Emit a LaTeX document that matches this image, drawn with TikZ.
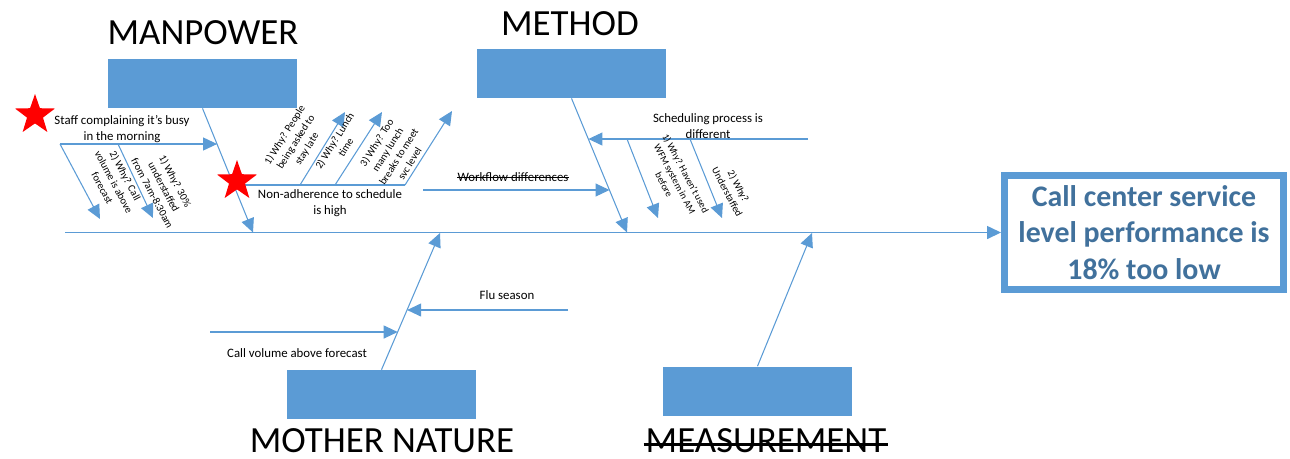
\documentclass[tikz,border=0pt]{standalone}
\usepackage{fontspec}
\setmainfont{Carlito}
\usetikzlibrary{arrows.meta,shapes.geometric}
\definecolor{bone}{HTML}{5B9BD5}
\definecolor{effecttext}{HTML}{41719C}
\tikzset{category/.style = {fill=bone, minimum width=3.78cm, minimum height=0.98cm, inner sep=0}}
\tikzset{catname/.style = {font=\fontsize{21}{25}\selectfont, inner sep=0}}
\tikzset{bonearrow/.style = {draw=bone, line width=0.6pt, -{Triangle[length=0.28cm,width=0.26cm]}}}
\tikzset{cause/.style = {font=\fontsize{7.3}{9}\selectfont, align=center, inner sep=0}}
\tikzset{why/.style = {font=\fontsize{6}{7.4}\selectfont, align=center, inner sep=0}}
\tikzset{redstar/.style = {star, star points=5, star point ratio=2.5, fill=red, minimum size=0.84cm, inner sep=0}}

\begin{document}
\begin{tikzpicture}[x=0.02cm, y=-0.02cm]
        \useasboundingbox (0,0) rectangle (1290,458);

        % effect and spine
        \node[draw=bone, line width=0.14cm, minimum width=5.58cm, minimum height=2.28cm,
              text=effecttext, font=\fontsize{17}{20.8}\selectfont\bfseries, align=center]
              (effect) at (1144,232.5) {Call center service\\level performance is\\18\% too low};
        \coordinate (tail) at (65,232.5);
        \draw[bonearrow, line width=0.85pt] (tail) -- (effect.west);

        % categories
        \node[category] (man) at (202.5,83.5) {};
        \node[category] (meth) at (571.5,73.5) {};
        \node[category] (nat) at (381.5,394.5) {};
        \node[category] (meas) at (757.5,391) {};
        \node[catname] (mantext) at (203,33) {MANPOWER};
        \node[catname] (methtext) at (570,24) {METHOD};
        \node[catname] (nattext) at (382,441) {MOTHER NATURE};
        \node[catname] (meastext) at (766,441) {MEASUREMENT};
        \draw[line width=1.3pt] ([xshift=-1pt,yshift=-2pt]meastext.west) -- ([xshift=1pt,yshift=-2pt]meastext.east);

        \coordinate (manend) at (253,232.5);
        \coordinate (methend) at (627,232.5);
        \coordinate (natend) at (440,233);
        \coordinate (measend) at (812,233);
        \draw[bonearrow] (man.south) -- (manend);
        \draw[bonearrow] (meth.south) -- (methend);
        \draw[bonearrow] (nat.north) -- (natend);
        \draw[bonearrow] (meas.north) -- (measend);

        % manpower causes
        \coordinate (staff) at (60,144);
        \coordinate (staffend) at (217.1,144);
        \coordinate (staffwhy) at (118,144);
        \coordinate (staffwhyend) at (153,218);
        \coordinate (staffcallend) at (100,219);
        \draw[bonearrow] (staff) -- (staffend);
        \draw[bonearrow] (staff) -- (staffcallend);
        \draw[bonearrow] (staffwhy) -- (staffwhyend);
        \node[cause] (stafftext) at (122,129) {Staff complaining it's busy\\in the morning};
        \node[why, rotate=-62] (callwhy) at (114,182) {2) Why? Call\\volume is above\\forecast};
        \node[why, rotate=-62] (understaff) at (164,187) {1) Why? 30\%\\understaffed\\from 7am-8:30am};

        \coordinate (sched) at (233.7,185);
        \coordinate (schedend) at (405,185);
        \coordinate (late) at (300,185);
        \coordinate (lateend) at (345,112);
        \coordinate (lunch) at (335,185);
        \coordinate (lunchend) at (382,112);
        \coordinate (breaksend) at (452,111);
        \draw[draw=bone, line width=0.6pt] (sched) -- (schedend);
        \draw[bonearrow] (late) -- (lateend);
        \draw[bonearrow] (lunch) -- (lunchend);
        \draw[bonearrow] (schedend) -- (breaksend);
        \node[cause] (schedtext) at (330,203) {Non-adherence to schedule\\is high};
        \node[why, rotate=58] (latetext) at (296,142) {1) Why? People\\being asked to\\stay late};
        \node[why, rotate=58] (lunchtext) at (340,144) {2) Why? Lunch\\time};
        \node[why, rotate=58] (breakstext) at (393,153) {3) Why? Too\\many lunch\\breaks to meet\\svc level};

        % method causes
        \coordinate (flow) at (423,190);
        \coordinate (flowend) at (609.5,190);
        \draw[bonearrow] (flow) -- (flowend);
        \node[cause] (flowtext) at (513,177) {Workflow differences};
        \draw[line width=0.5pt] ([yshift=-0.5pt]flowtext.west) -- ([yshift=-0.5pt]flowtext.east);

        \coordinate (proc) at (808,139);
        \coordinate (procend) at (588.4,139);
        \coordinate (wfm) at (627,139);
        \coordinate (wfmend) at (658,218);
        \coordinate (staffed) at (690,139);
        \coordinate (staffedend) at (722,218);
        \draw[bonearrow] (proc) -- (procend);
        \draw[bonearrow] (wfm) -- (wfmend);
        \draw[bonearrow] (staffed) -- (staffedend);
        \node[cause] (proctext) at (708,126) {Scheduling process is\\different};
        \node[why, font=\fontsize{5.6}{7}\selectfont, rotate=-62] (wfmtext) at (675,179) {1) Why? Haven't used\\WFM system in AM\\before};
        \node[why, font=\fontsize{5.8}{7.2}\selectfont, rotate=-62] (staffedtext) at (733,189) {2) Why?\\Understaffed};

        % mother nature causes
        \coordinate (flu) at (568,310);
        \coordinate (fluend) at (407.1,310);
        \coordinate (vol) at (210,332);
        \coordinate (volend) at (397.7,332);
        \draw[bonearrow] (flu) -- (fluend);
        \draw[bonearrow] (vol) -- (volend);
        \node[cause] (flutext) at (507,295) {Flu season};
        \node[cause] (voltext) at (297,353) {Call volume above forecast};

        % stars
        \node[redstar] (star1) at (35,115) {};
        \node[redstar] (star2) at (237,181) {};
\end{tikzpicture}
\end{document}
